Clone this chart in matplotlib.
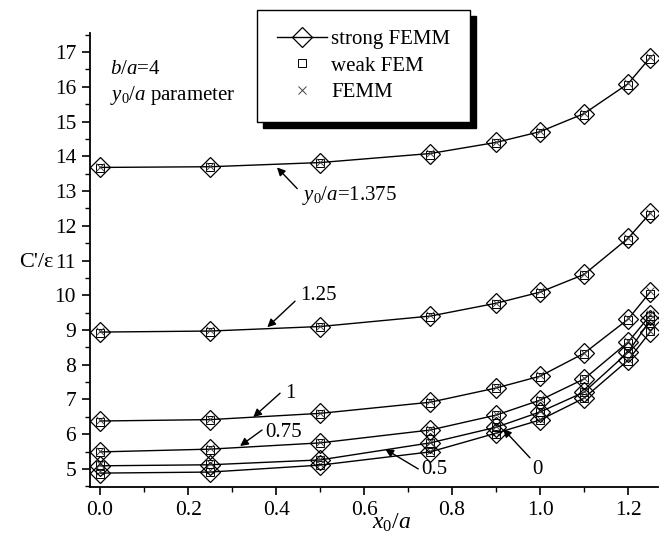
import matplotlib
matplotlib.use("Agg")
import matplotlib.pyplot as plt
from matplotlib.ticker import MultipleLocator
from matplotlib.patches import Rectangle

plt.rcParams['font.family'] = ['Liberation Serif', 'DejaVu Serif']
plt.rcParams['mathtext.fontset'] = 'custom'
plt.rcParams['mathtext.rm'] = 'Liberation Serif'
plt.rcParams['mathtext.it'] = 'Liberation Serif:italic'

# ---- data ----
x_vals = [0.0, 0.25, 0.5, 0.75, 0.9, 1.0, 1.1, 1.2, 1.25]
y0_labels = ['0', '0.5', '0.75', '1', '1.25', '1.375']
c_y0_0 = [4.88, 4.91, 5.11, 5.49, 6.03, 6.41, 7.04, 8.13, 8.94]
c_y0_05 = [5.09, 5.12, 5.26, 5.75, 6.20, 6.64, 7.21, 8.36, 9.28]
c_y0_075 = [5.49, 5.57, 5.75, 6.12, 6.55, 6.98, 7.59, 8.65, 9.42]
c_y0_1 = [6.38, 6.42, 6.60, 6.92, 7.33, 7.67, 8.33, 9.31, 10.09]
c_y0_125 = [8.94, 8.97, 9.10, 9.40, 9.77, 10.09, 10.60, 11.64, 12.36]
c_y0_1375 = [13.68, 13.70, 13.82, 14.08, 14.40, 14.71, 15.23, 16.09, 16.84]
strong_femm = [c_y0_0, c_y0_05, c_y0_075, c_y0_1, c_y0_125, c_y0_1375]
weak_fem = [
    [4.86, 4.90, 5.12, 5.50, 6.02, 6.40, 7.05, 8.10, 8.96],
    [5.10, 5.13, 5.27, 5.74, 6.22, 6.65, 7.22, 8.35, 9.30],
    [5.50, 5.55, 5.74, 6.10, 6.56, 6.96, 7.60, 8.62, 9.40],
    [6.36, 6.40, 6.58, 6.90, 7.32, 7.66, 8.30, 9.28, 10.05],
    [8.92, 8.95, 9.08, 9.38, 9.75, 10.07, 10.58, 11.60, 12.32],
    [13.65, 13.68, 13.80, 14.05, 14.38, 14.68, 15.20, 16.05, 16.80],
]
femm = [
    [4.95, 4.96, 5.14, 5.52, 6.06, 6.44, 7.08, 8.16, 8.98],
    [5.14, 5.16, 5.30, 5.78, 6.24, 6.68, 7.25, 8.40, 9.32],
    [5.52, 5.59, 5.78, 6.15, 6.58, 7.00, 7.62, 8.68, 9.45],
    [6.40, 6.44, 6.62, 6.95, 7.35, 7.70, 8.35, 9.34, 10.12],
    [8.96, 8.99, 9.12, 9.42, 9.79, 10.11, 10.62, 11.66, 12.38],
    [13.70, 13.72, 13.84, 14.10, 14.42, 14.73, 15.25, 16.12, 16.87],
]
x_ticks = [0.0, 0.2, 0.4, 0.6, 0.8, 1.0, 1.2]
x_tick_labels = ['0.0', '0.2', '0.4', '0.6', '0.8', '1.0', '1.2']
y_ticks = list(range(5, 18))

fig = plt.figure(figsize=(6.69, 5.46), dpi=100)
ax = fig.add_axes([90/669, 1-487/546, (658-90)/669, (487-33)/546])

for i in range(len(y0_labels)):
    ax.plot(x_vals, strong_femm[i], '-', color='black', lw=1.0,
            marker='D', ms=10, mfc='none', mec='black', mew=0.9,
            label='strong FEMM' if i == 0 else None)
    ax.plot(x_vals, weak_fem[i], 's', ls='none', ms=6, mfc='none',
            mec='black', mew=0.7, label='weak FEM' if i == 0 else None)
    ax.plot(x_vals, femm[i], 'x', ls='none', ms=6, color='#444444',
            mew=0.7, label='FEMM' if i == 0 else None)

ax.set_xlim(-0.023, 1.268)
ax.set_ylim(4.48, 17.55)
ax.xaxis.set_minor_locator(MultipleLocator(0.1))
ax.yaxis.set_minor_locator(MultipleLocator(0.5))
ax.set_yticks(y_ticks)
ax.set_xticks(x_ticks)
ax.set_xticklabels(x_tick_labels)
ax.spines['top'].set_visible(False)
ax.spines['right'].set_visible(False)
for s in ('left', 'bottom'):
    ax.spines[s].set_linewidth(1.3)
ax.tick_params(which='major', direction='out', length=6, width=1.2, labelsize=15.5, pad=4)
ax.tick_params(which='minor', direction='out', length=3.5, width=1.0)

fig.text(53/669, 1-262/546, "C'/ε", fontsize=16, ha='right', va='center')
fig.text(392/669, 1-523/546, r'$x_{\mathrm{0}}/a$', fontsize=17, ha='center', va='center')

ax.text(0.023, 16.5, r'$b/a$=4', fontsize=15, ha='left', va='center')
ax.text(0.023, 15.75, r'$y_{\mathrm{0}}/a$ parameter', fontsize=15, ha='left', va='center')

arrow = dict(arrowstyle='-|>', color='black', lw=1.0, mutation_scale=12,
             shrinkA=0, shrinkB=0)
annots = [
    (r'$y_{\mathrm{0}}/a$=1.375', (0.402, 13.68), (0.448, 13.07), (0.459, 12.87)),
    ('1.25', (0.380, 9.08), (0.443, 9.83), (0.4545, 10.0)),
    ('1', (0.348, 6.49), (0.409, 7.18), (0.42, 7.16)),
    ('0.75', (0.318, 5.66), (0.368, 6.12), (0.375, 6.06)),
    ('0.5', (0.648, 5.57), (0.723, 5.0), (0.73, 4.97)),
    ('0', (0.916, 6.15), (0.977, 5.32), (0.983, 4.97)),
]
for txt, head, tail, tpos in annots:
    ax.annotate('', xy=head, xytext=tail, arrowprops=arrow)
    ax.text(tpos[0], tpos[1], txt, fontsize=15, ha='left', va='center')

leg = fig.legend(loc='upper left', bbox_to_anchor=(257/669, 1-10/546),
                 bbox_transform=fig.transFigure, fontsize=15, frameon=True,
                 fancybox=False, edgecolor='black', framealpha=1,
                 handlelength=2.4, handletextpad=0.2, borderpad=0.95,
                 labelspacing=0.32, borderaxespad=0)
leg.get_frame().set_linewidth(1.0)
leg.set_zorder(10)

fig.canvas.draw()
bb = leg.get_window_extent().transformed(fig.transFigure.inverted())
off_x, off_y = 6/669, 6/546
shadow = Rectangle((bb.x0 + off_x, bb.y0 - off_y), bb.width, bb.height,
                   transform=fig.transFigure, facecolor='black',
                   edgecolor='black', zorder=9)
fig.add_artist(shadow)

fig.savefig('out.png', dpi=100, facecolor='white')
